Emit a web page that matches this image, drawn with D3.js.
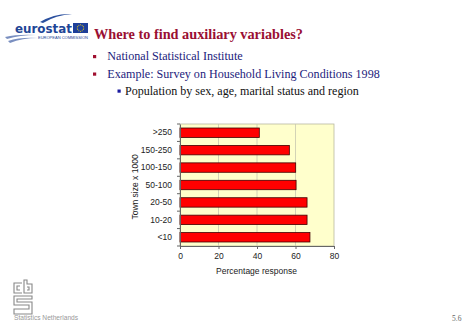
<!DOCTYPE html>
<html><head><meta charset="utf-8">
<script src="https://cdn.jsdelivr.net/npm/d3@7"></script>
<style>body{margin:0;background:#fff}svg{display:block}</style>
</head><body>
<svg id="c" width="474" height="328"></svg>
<script>
const categories = [">250", "150-250", "100-150", "50-100", "20-50", "10-20", "<10"];
const responseValues = [41.2, 56.8, 60.1, 60.3, 66.0, 66.0, 67.5];
const xTicks = [0, 20, 40, 60, 80];
const titleText = "Where to find auxiliary variables?";
const bullets = ["National Statistical Institute", "Example: Survey on Household Living Conditions 1998"];
const subBullet = "Population by sex, age, marital status and region";
const xAxisTitle = "Percentage response";
const yAxisTitle = "Town size x 1000";

const svg = d3.select("#c");

function fitText(sel, width) {
  const node = sel.node();
  const fs = parseFloat(sel.attr("font-size"));
  const w = node.getComputedTextLength();
  if (w > 0) sel.attr("font-size", (fs * width / w).toFixed(2));
  return sel;
}

// Title
fitText(svg.append("text").attr("x", 94).attr("y", 38.5)
  .attr("font-family", "Liberation Serif").attr("font-weight", "bold")
  .attr("font-size", 16).attr("fill", "#9a0f33").text(titleText), 209);

// bullets
const bulletY = [60, 77.5];
const bulletW = [135.5, 272.7];
bullets.forEach((b, i) => {
  svg.append("rect").attr("x", 93).attr("y", bulletY[i] - 5).attr("width", 3.2).attr("height", 3.2).attr("fill", "#a01030");
  fitText(svg.append("text").attr("x", 107.3).attr("y", bulletY[i])
    .attr("font-family", "Liberation Serif").attr("font-size", 13)
    .attr("fill", "#1c1c7c").text(b), bulletW[i]);
});
svg.append("rect").attr("x", 117.5).attr("y", 89.5).attr("width", 3.2).attr("height", 3.2).attr("fill", "#1a1aa0");
fitText(svg.append("text").attr("x", 125).attr("y", 95)
  .attr("font-family", "Liberation Serif").attr("font-size", 13)
  .attr("fill", "#111").text(subBullet), 234);

// Chart
const x = d3.scaleLinear().domain([0, 80]).range([180, 334]);
const y = d3.scaleBand().domain(categories).range([124, 246]).paddingInner(0.46).paddingOuter(0.23);

svg.append("rect").attr("x", x(0)).attr("y", 124).attr("width", x(80) - x(0)).attr("height", 122)
  .attr("fill", "#ffffcc").attr("stroke", "#b8b8a0").attr("stroke-width", 0.8);

svg.append("g").selectAll("line").data(xTicks.slice(1, -1)).join("line")
  .attr("x1", d => x(d)).attr("x2", d => x(d)).attr("y1", 124).attr("y2", 246)
  .attr("stroke", "#c8c8b0").attr("stroke-width", 0.8);

svg.append("g").selectAll("rect").data(categories).join("rect")
  .attr("x", x(0)).attr("y", d => y(d))
  .attr("width", (d, i) => x(responseValues[i]) - x(0))
  .attr("height", y.bandwidth())
  .attr("fill", "#ff0000").attr("stroke", "#400000").attr("stroke-width", 0.8);

const xAxis = svg.append("g").attr("transform", "translate(0,246)")
  .call(d3.axisBottom(x).tickValues(xTicks).tickSize(3).tickPadding(4));
xAxis.select(".domain").attr("stroke", "#666");
xAxis.selectAll(".tick line").attr("stroke", "#666");
xAxis.selectAll("text").attr("font-family", "Liberation Sans").attr("font-size", 8.5).attr("fill", "#222");

// y axis: ticks at band boundaries
const yAxis = svg.append("g").attr("transform", "translate(180,0)")
  .call(d3.axisLeft(y).tickSize(0).tickPadding(8));
yAxis.select(".domain").attr("stroke", "#666");
yAxis.selectAll("text").attr("font-family", "Liberation Sans").attr("font-size", 8.5).attr("fill", "#222");
const bounds = d3.range(categories.length + 1).map(i => 124 + i * (122 / categories.length));
svg.append("g").selectAll("line").data(bounds).join("line")
  .attr("x1", 177).attr("x2", 180).attr("y1", d => d).attr("y2", d => d).attr("stroke", "#666");

svg.append("text").attr("x", 256.5).attr("y", 274).attr("text-anchor", "middle")
  .attr("font-family", "Liberation Sans").attr("font-size", 8.5).attr("fill", "#222").text(xAxisTitle);
svg.append("text").attr("transform", "translate(137.5,187) rotate(-90)").attr("text-anchor", "middle")
  .attr("font-family", "Liberation Sans").attr("font-size", 8.5).attr("fill", "#222").text(yAxisTitle);

// Eurostat logo
const logo = svg.append("g");
logo.append("path").attr("d", "M40,22 Q55,13 72,14 Q56,15 43,23 Z").attr("fill", "#2a4f9e");
logo.append("path").attr("d", "M8,41 Q20,37 38,38 Q22,38 10,43 Z").attr("fill", "#7a8fc0");
logo.append("path").attr("d", "M5,37 Q18,34 36,35 Q20,35 7,39 Z").attr("fill", "#7a8fc0");
fitText(logo.append("text").attr("x", 15).attr("y", 33).attr("font-family", "DejaVu Sans")
  .attr("font-weight", "bold").attr("font-size", 13).attr("fill", "#1e4596").text("eurostat"), 57);
logo.append("rect").attr("x", 73).attr("y", 23).attr("width", 15).attr("height", 10).attr("fill", "#1e3f99");
d3.range(12).forEach(i => {
  const a = i * Math.PI / 6;
  logo.append("circle").attr("cx", 80.5 + 3.2 * Math.cos(a)).attr("cy", 28 + 3.2 * Math.sin(a)).attr("r", 0.5).attr("fill", "#ffdd00");
});
fitText(logo.append("text").attr("x", 38).attr("y", 38.5).attr("font-family", "Liberation Sans")
  .attr("font-size", 4).attr("fill", "#1e4596").text("EUROPEAN COMMISSION"), 50);

// CBS logo
const cbs = svg.append("g").attr("fill", "none").attr("stroke", "#888").attr("stroke-width", 1.1);
cbs.append("path").attr("d", "M22,283 L14,283 L14,293 L22,293 M20,286 L17,286 L17,290 L20,290");
cbs.append("path").attr("d", "M24,280 L24,293 L32,293 L32,284 L27,284 L27,280 Z M27,287 L29,287 L29,290 L27,290");
cbs.append("path").attr("d", "M32,296 L14,296 L14,305 L29,305 L29,309 L14,309 L14,314 L32,314 L32,302 L17,302 L17,299 L32,299 Z");
fitText(svg.append("text").attr("x", 14).attr("y", 320).attr("font-family", "Liberation Sans")
  .attr("font-size", 5.2).attr("fill", "#999").text("Statistics Netherlands"), 64);

svg.append("text").attr("x", 452).attr("y", 320.5).attr("font-family", "Liberation Serif")
  .attr("font-size", 7.5).attr("fill", "#666").text("5.6");
</script>
</body></html>
